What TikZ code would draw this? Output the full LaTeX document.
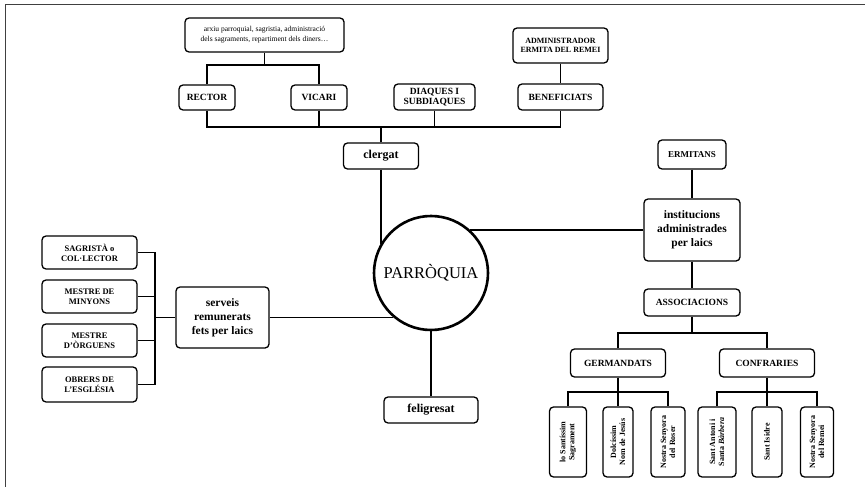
\documentclass[tikz,border=0pt]{standalone}
\usepackage{fontspec}
\setmainfont{Liberation Serif}
\usepackage{tikz}
\usetikzlibrary{calc}
\usetikzlibrary{positioning}

\begin{document}
\begin{tikzpicture}[x=1pt,y=-1pt,line width=1.7pt,
box/.style ={draw,black,rounded corners=4pt,line width=1.3pt,align=center,inner sep=1pt,font=\bfseries\fontsize{9.5}{10.5}\selectfont},
bigbox/.style ={box,font=\bfseries\fontsize{12}{14}\selectfont},
tinybox/.style ={box,font=\bfseries\fontsize{8.5}{10}\selectfont},
notebox/.style ={box,font=\fontsize{7.5}{10}\selectfont},
vbox/.style ={box,rotate=90,minimum width=70pt,font=\bfseries\fontsize{8}{9}\selectfont},
hub/.style ={circle,draw,black,line width=2.6pt,minimum size=114pt,inner sep=0pt,font=\fontsize{16.5}{18}\selectfont},
frame/.style ={line width=1pt,black!75}]
\useasboundingbox (0,0) rectangle (865,487);
\draw[frame] (5,487) -- (5,5) -- (865,5);
% centre
\node[hub] (parroquia) at (431,273) {PARRÒQUIA};
% clergat
\node[notebox, minimum width=159pt, minimum height=34pt] (arxiu) at (264.5,35) {arxiu parroquial, sagristia, administració\\dels sagraments, repartiment dels diners…};
\node[tinybox, font=\bfseries\fontsize{8}{9.5}\selectfont, minimum width=95pt, minimum height=35pt] (admin) at (560.5,45.5) {ADMINISTRADOR\\ERMITA DEL REMEI};
\node[box, minimum width=56pt, minimum height=25pt] (rector) at (207,97.5) {RECTOR};
\node[box, minimum width=56pt, minimum height=25pt] (vicari) at (319,97.5) {VICARI};
\node[box, minimum width=81pt, minimum height=26pt] (diaques) at (434.5,97) {DIAQUES I\\SUBDIAQUES};
\node[box, minimum width=85pt, minimum height=26pt] (beneficiats) at (560.5,97) {BENEFICIATS};
\node[bigbox, minimum width=75pt, minimum height=26pt] (clergat) at (381,156) {clergat};
\coordinate (arxbus) at (264.5,65);
\coordinate (clerbus) at (381,127);
\draw (arxiu.south) -- (arxbus);
\draw (rector.north) |- (arxbus) -| (vicari.north);
\draw (admin.south) -- (beneficiats.north);
\draw (clergat.north) -- (clerbus);
\draw (rector.south) |- (clerbus) -| (beneficiats.south);
\draw (vicari.south) -- (vicari.south |- clerbus);
\draw (diaques.south) -- (diaques.south |- clerbus);
\draw (clergat.south) -- (clergat.south |- parroquia.150);
% serveis
\node[bigbox, font=\bfseries\fontsize{11.5}{14}\selectfont, minimum width=93pt, minimum height=61pt] (serveis) at (222.5,317.5) {serveis\\remunerats\\fets per laics};
\node[tinybox, minimum width=95pt, minimum height=33pt] (sagrista) at (89.5,252.5) {SAGRISTÀ o\\COL·LECTOR};
\node[tinybox, minimum width=95pt, minimum height=33pt] (minyons) at (89.5,296.5) {MESTRE DE\\MINYONS};
\node[tinybox, minimum width=95pt, minimum height=33pt] (orguens) at (89.5,340.5) {MESTRE\\D’ÒRGUENS};
\node[tinybox, minimum width=95pt, minimum height=35pt] (obrers) at (89.5,384.5) {OBRERS DE\\L’ESGLÉSIA};
\coordinate (lbus) at (155,317.5);
\draw (serveis.west) -- (lbus);
\draw (sagrista.east) -| (lbus) |- (obrers.east);
\draw (minyons.east) -- (minyons.east -| lbus);
\draw (orguens.east) -- (orguens.east -| lbus);
\draw (serveis.east) -- (serveis.east -| parroquia.229);
% feligresat
\node[bigbox, minimum width=94pt, minimum height=26pt] (feligresat) at (431,410) {feligresat};
\draw (feligresat.north) -- (feligresat.north |- parroquia.south);
% laics
\node[box, font=\bfseries\fontsize{9}{10}\selectfont, minimum width=68pt, minimum height=29pt] (ermitans) at (692,154.5) {ERMITANS};
\node[bigbox, font=\bfseries\fontsize{11.5}{14}\selectfont, minimum width=96pt, minimum height=62pt] (institucions) at (692,230) {institucions\\administrades\\per laics};
\node[box, minimum width=96pt, minimum height=27pt] (associacions) at (692,302.5) {ASSOCIACIONS};
\node[box, minimum width=95pt, minimum height=28pt] (germandats) at (618,363) {GERMANDATS};
\node[box, minimum width=95pt, minimum height=28pt] (confraries) at (767,363) {CONFRARIES};
\draw (institucions.west) -- (institucions.west -| parroquia.48);
\draw (ermitans.south) -- (institucions.north);
\draw (institucions.south) -- (associacions.north);
\coordinate (abus) at (692,333);
\draw (associacions.south) -- (abus);
\draw (germandats.north) |- (abus) -| (confraries.north);
% germandats i confraries
\node[vbox, minimum height=37pt] (santissim) at (568,442) {lo Santíssim\\Sagrament};
\node[vbox, minimum height=30pt] (dolcissim) at (618,442) {Dolcíssim\\Nom de Jesús};
\node[vbox, minimum height=34pt] (roser) at (668,442) {Nostra Senyora\\del Roser};
\node[vbox, minimum height=38pt] (antoni) at (717,442) {Sant Antoni i\\Santa \textit{Bàrbera}};
\node[vbox, minimum height=30pt] (isidre) at (767,442) {Sant Isidre};
\node[vbox, minimum height=33pt] (remei) at (817,442) {Nostra Senyora\\del Remei};
\coordinate (gbus) at (618,392);
\coordinate (cbus) at (767,392);
\draw (germandats.south) -- (dolcissim.east);
\draw (santissim.east) |- (gbus) -| (roser.east);
\draw (confraries.south) -- (isidre.east);
\draw (antoni.east) |- (cbus) -| (remei.east);
\end{tikzpicture}
\end{document}
